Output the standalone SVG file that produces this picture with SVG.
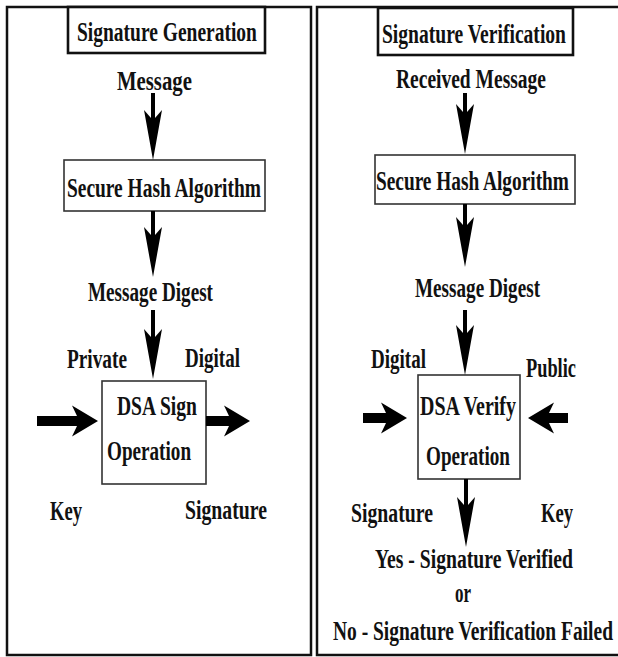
<svg xmlns="http://www.w3.org/2000/svg" width="618" height="657" viewBox="0 0 618 657">
  <style>
    .panel { fill: none; stroke: #111; stroke-width: 2.5; }
    .title { fill: #fff; stroke: #111; stroke-width: 2.6; }
    .box { fill: #fff; stroke: #333; stroke-width: 1.6; }
    .lbl { font-family: "Liberation Serif", "Times New Roman", serif; font-weight: bold; font-size: 28px; fill: #111; }
    .shaft { stroke: #000; stroke-width: 4; fill: none; marker-end: url(#barb); }
    .fat { stroke: #000; stroke-width: 10; fill: none; marker-end: url(#fathead); }
  </style>
  <defs>
    <!-- long barbed head for the vertical flow arrows -->
    <marker id="barb" markerUnits="userSpaceOnUse" markerWidth="60" markerHeight="24" refX="8" refY="0" orient="auto" overflow="visible">
      <path d="M0,-9 L50,0 L0,9 L8,2 L8,-2 Z" fill="#000"/>
    </marker>
    <!-- wide head for the key / signature side arrows -->
    <marker id="fathead" markerUnits="userSpaceOnUse" markerWidth="30" markerHeight="34" refX="5" refY="0" orient="auto" overflow="visible">
      <path d="M0,-15.5 L26,0 L0,15.5 L5,5 L5,-5 Z" fill="#000"/>
    </marker>
  </defs>

  <rect width="618" height="657" fill="#fff"/>

  <!-- panel frames -->
  <g id="panels">
    <rect class="panel" x="7" y="7" width="304" height="648"/>
    <path class="panel" d="M620,7 H317 V655 H620"/>
  </g>

  <!-- labels use a condensed face: every text is squeezed to 70% width
       (x and textLength are therefore given in the squeezed space) -->

  <!-- signing side -->
  <g id="gen-title">
    <rect class="title" x="68" y="7" width="197" height="46"/>
    <text class="lbl" transform="scale(0.7,1)" x="110" y="41" textLength="257.1" lengthAdjust="spacingAndGlyphs">Signature Generation</text>
  </g>
  <g id="gen-message">
    <text class="lbl" transform="scale(0.7,1)" x="167.1" y="90" textLength="107.1" lengthAdjust="spacingAndGlyphs">Message</text>
  </g>
  <g id="gen-sha">
    <rect class="box" x="64" y="160" width="201" height="51"/>
    <text class="lbl" transform="scale(0.7,1)" x="95.7" y="197" textLength="277.1" lengthAdjust="spacingAndGlyphs">Secure Hash Algorithm</text>
  </g>
  <g id="gen-digest">
    <text class="lbl" transform="scale(0.7,1)" x="125.7" y="301" textLength="178.6" lengthAdjust="spacingAndGlyphs">Message Digest</text>
  </g>
  <g id="gen-private-key">
    <text class="lbl" transform="scale(0.7,1)" x="95.7" y="368" textLength="85.7" lengthAdjust="spacingAndGlyphs">Private</text>
    <text class="lbl" transform="scale(0.7,1)" x="71.4" y="520" textLength="45.7" lengthAdjust="spacingAndGlyphs">Key</text>
  </g>
  <g id="gen-signature-out">
    <text class="lbl" transform="scale(0.7,1)" x="264.3" y="367" textLength="78.6" lengthAdjust="spacingAndGlyphs">Digital</text>
    <text class="lbl" transform="scale(0.7,1)" x="264.3" y="519" textLength="117.1" lengthAdjust="spacingAndGlyphs">Signature</text>
  </g>
  <g id="gen-dsa">
    <rect class="box" x="102" y="381" width="104" height="103"/>
    <text class="lbl" transform="scale(0.7,1)" x="167.1" y="415" textLength="114.3" lengthAdjust="spacingAndGlyphs">DSA Sign</text>
    <text class="lbl" transform="scale(0.7,1)" x="152.9" y="460" textLength="120" lengthAdjust="spacingAndGlyphs">Operation</text>
  </g>

  <!-- verifying side -->
  <g id="ver-title">
    <rect class="title" x="378" y="8" width="195" height="47"/>
    <text class="lbl" transform="scale(0.7,1)" x="545.7" y="43" textLength="262.9" lengthAdjust="spacingAndGlyphs">Signature Verification</text>
  </g>
  <g id="ver-message">
    <text class="lbl" transform="scale(0.7,1)" x="565.7" y="88" textLength="214.3" lengthAdjust="spacingAndGlyphs">Received Message</text>
  </g>
  <g id="ver-sha">
    <rect class="box" x="375" y="155" width="200" height="49"/>
    <text class="lbl" transform="scale(0.7,1)" x="537.1" y="190" textLength="275.7" lengthAdjust="spacingAndGlyphs">Secure Hash Algorithm</text>
  </g>
  <g id="ver-digest">
    <text class="lbl" transform="scale(0.7,1)" x="592.9" y="297" textLength="178.6" lengthAdjust="spacingAndGlyphs">Message Digest</text>
  </g>
  <g id="ver-signature-in">
    <text class="lbl" transform="scale(0.7,1)" x="530" y="368" textLength="78.6" lengthAdjust="spacingAndGlyphs">Digital</text>
    <text class="lbl" transform="scale(0.7,1)" x="501.4" y="522" textLength="117.1" lengthAdjust="spacingAndGlyphs">Signature</text>
  </g>
  <g id="ver-public-key">
    <text class="lbl" transform="scale(0.7,1)" x="751.4" y="377" textLength="71.4" lengthAdjust="spacingAndGlyphs">Public</text>
    <text class="lbl" transform="scale(0.7,1)" x="772.9" y="522" textLength="45.7" lengthAdjust="spacingAndGlyphs">Key</text>
  </g>
  <g id="ver-dsa">
    <rect class="box" x="418" y="375" width="102" height="104"/>
    <text class="lbl" transform="scale(0.7,1)" x="600" y="415" textLength="137.1" lengthAdjust="spacingAndGlyphs">DSA Verify</text>
    <text class="lbl" transform="scale(0.7,1)" x="608.6" y="465" textLength="120" lengthAdjust="spacingAndGlyphs">Operation</text>
  </g>
  <g id="ver-result">
    <text class="lbl" transform="scale(0.7,1)" x="535.7" y="568" textLength="282.9" lengthAdjust="spacingAndGlyphs">Yes - Signature Verified</text>
    <text class="lbl" transform="scale(0.7,1)" x="650" y="602" textLength="22.9" lengthAdjust="spacingAndGlyphs">or</text>
    <text class="lbl" transform="scale(0.7,1)" x="475.7" y="640" textLength="400" lengthAdjust="spacingAndGlyphs">No - Signature Verification Failed</text>
  </g>

  <!-- connectors -->
  <g id="connectors">
    <line class="shaft" x1="153" y1="93" x2="153" y2="118"/>
    <line class="shaft" x1="153" y1="211" x2="153" y2="235"/>
    <line class="shaft" x1="153" y1="310" x2="153" y2="337"/>
    <line class="fat" x1="37" y1="421" x2="77" y2="421"/>
    <line class="fat" x1="206" y1="421" x2="229" y2="421"/>

    <line class="shaft" x1="465" y1="93" x2="465" y2="112"/>
    <line class="shaft" x1="465" y1="204" x2="465" y2="225"/>
    <line class="shaft" x1="465" y1="310" x2="465" y2="333"/>
    <line class="shaft" x1="466" y1="479" x2="466" y2="505"/>
    <line class="fat" x1="363" y1="418" x2="386" y2="418"/>
    <line class="fat" x1="568" y1="418" x2="549" y2="418"/>
  </g>
</svg>
